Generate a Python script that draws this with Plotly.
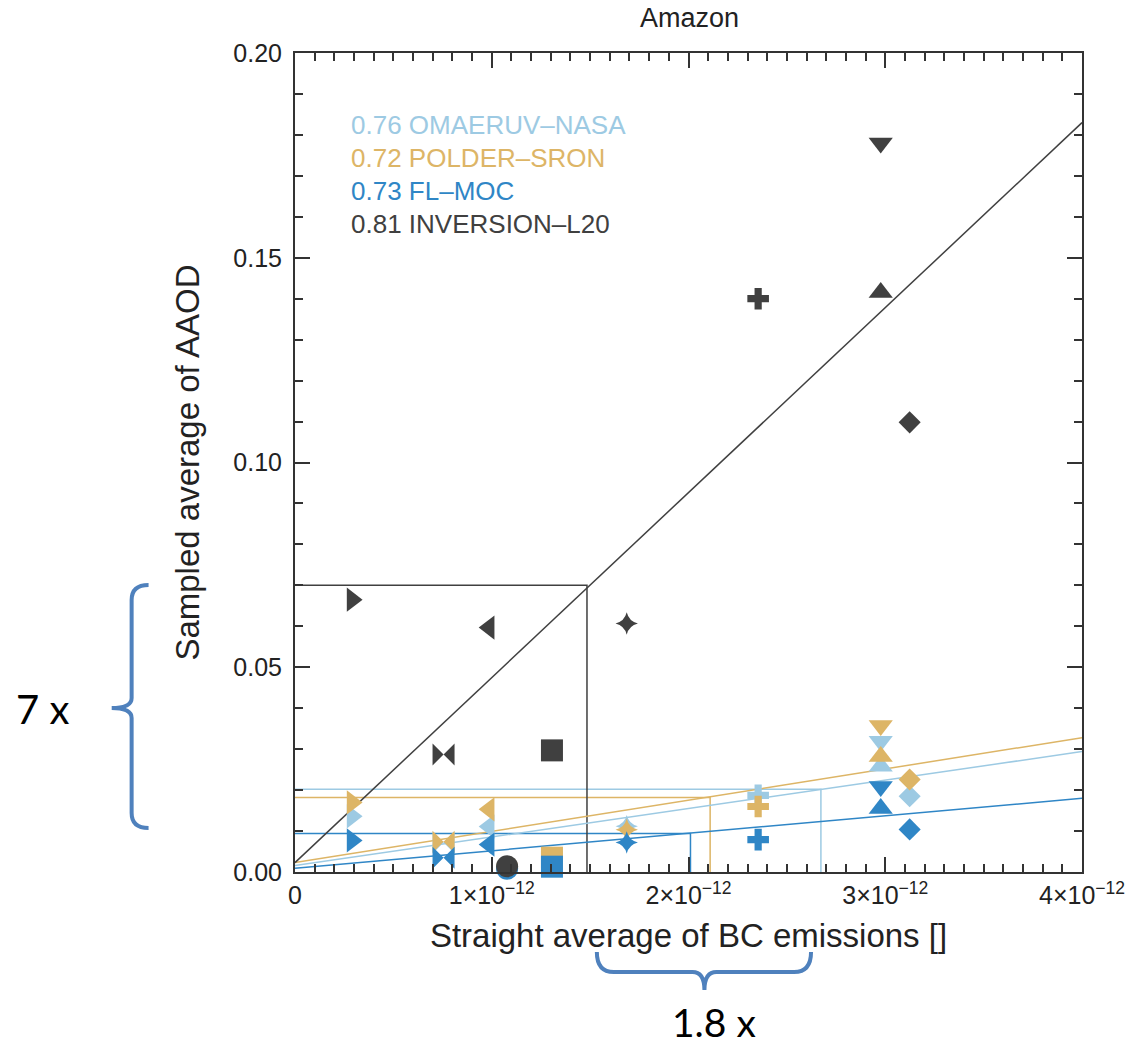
import plotly.graph_objects as go

# ---------------- data ----------------
series_names = ["OMAERUV-NASA", "POLDER-SRON", "FL-MOC", "INVERSION-L20"]
series_corr = ["0.76", "0.72", "0.73", "0.81"]
series_colors = ["#9DCAE3", "#DDB566", "#2F86C6", "#404040"]

case_symbols = ["triangle-right", "bowtie", "triangle-left", "circle", "square",
                "star-diamond", "cross", "triangle-down", "triangle-up", "diamond"]
marker_sizes = [21, 22, 21, 22, 22, 16, 18, 21, 21, 17]

# straight average of BC emissions (same for every dataset)
bc_emis = [0.29e-12, 0.755e-12, 0.987e-12, 1.078e-12, 1.306e-12,
           1.686e-12, 2.354e-12, 2.977e-12, 2.977e-12, 3.124e-12]

aaod_omaeruv = [0.0136, 0.0072, 0.0111, 0.0010, 0.0025, 0.0112, 0.0187, 0.0319, 0.0258, 0.0185]
aaod_polder = [0.0170, 0.0074, 0.0153, 0.0012, 0.0035, 0.0103, 0.0160, 0.0358, 0.0282, 0.0226]
aaod_flmoc = [0.0077, 0.0035, 0.0067, 0.0008, 0.0013, 0.0072, 0.0079, 0.0209, 0.0155, 0.0104]
aaod_inversion = [0.0665, 0.0287, 0.0597, 0.0014, 0.0297, 0.0607, 0.1400, 0.1780, 0.1415, 0.1098]
series_aaod = [aaod_omaeruv, aaod_polder, aaod_flmoc, aaod_inversion]

# regression lines: value at x=0 and at x=4e-12
fit_x = [0.0, 4e-12]
fit_start = [0.0016, 0.0023, 0.0009, 0.0023]
fit_end = [0.0294, 0.0328, 0.0180, 0.1830]

# reference boxes (x, y corner)
box_x = [2.673e-12, 2.11e-12, 2.01e-12, 1.484e-12]
box_y = [0.0202, 0.0182, 0.0094, 0.0700]

x_tickvals = [0, 1e-12, 2e-12, 3e-12, 4e-12]
x_ticktext = ["0", "1×10<sup>−12</sup>", "2×10<sup>−12</sup>",
              "3×10<sup>−12</sup>", "4×10<sup>−12</sup>"]

# ---------------- layout geometry ----------------
W, H = 1137, 1048
L, R, T, B = 295, 52, 53, 176
PW, PH = W - L - R, H - T - B


def px(x):
    return (x - L) / PW


def py(y):
    return (H - B - y) / PH


FONT = "Liberation Sans, Arial, Helvetica, sans-serif"
fig = go.Figure()

# boxes and fit lines
for i in range(4):
    fig.add_trace(go.Scatter(
        x=[0, box_x[i], box_x[i]], y=[box_y[i], box_y[i], 0],
        mode="lines", line=dict(color=series_colors[i], width=1.5),
        showlegend=False, hoverinfo="skip"))
for i in range(4):
    fig.add_trace(go.Scatter(
        x=fit_x, y=[fit_start[i], fit_end[i]],
        mode="lines", line=dict(color=series_colors[i], width=1.5),
        showlegend=False, hoverinfo="skip"))

# markers
for i in range(4):
    fig.add_trace(go.Scatter(
        x=bc_emis, y=series_aaod[i], mode="markers",
        marker=dict(symbol=case_symbols, size=marker_sizes, opacity=1,
                    color=series_colors[i], line=dict(width=0)),
        cliponaxis=False, showlegend=False, name=series_names[i]))

# legend texts
leg_y = [125, 158, 191, 224]
for i in range(4):
    fig.add_annotation(
        x=px(349), y=py(leg_y[i]), xref="paper", yref="paper",
        xanchor="left", yanchor="middle", showarrow=False,
        text=f"{series_corr[i]} {series_names[i].replace('-', '–')}",
        font=dict(family=FONT, size=26, color=series_colors[i]))

# outside brackets
BR = "#4F81BD"


def path(points):
    s = ""
    for cmd, pts in points:
        s += cmd + " " + " ".join(f"{px(a):.5f},{py(b):.5f}" for a, b in pts) + " "
    return s.strip()


left_brace = path([
    ("M", [(148, 585)]), ("Q", [(131, 585), (131, 600)]), ("L", [(131, 698)]),
    ("Q", [(131, 708), (111, 708)]), ("Q", [(131, 708), (131, 718)]),
    ("L", [(131, 813)]), ("Q", [(131, 828), (148, 828)])])
bottom_brace = path([
    ("M", [(598, 952)]), ("Q", [(598, 972), (615, 972)]), ("L", [(694, 972)]),
    ("Q", [(706, 972), (706, 990)]), ("Q", [(706, 972), (718, 972)]),
    ("L", [(796, 972)]), ("Q", [(813, 972), (813, 952)])])
for p in (left_brace, bottom_brace):
    fig.add_shape(type="path", path=p, xref="paper", yref="paper",
                  line=dict(color=BR, width=4))

fig.add_annotation(x=px(42), y=py(709), xref="paper", yref="paper",
                   text="7 x", showarrow=False, xanchor="center", yanchor="middle",
                   font=dict(family="Lato, Carlito, sans-serif", size=40, color="black"))
fig.add_annotation(x=px(716), y=py(1022), xref="paper", yref="paper",
                   text="1.8 x", showarrow=False, xanchor="center", yanchor="middle",
                   font=dict(family="Lato, Carlito, sans-serif", size=39, color="black"))

axis_common = dict(showline=True, linecolor="#333333", linewidth=2, mirror="allticks",
                   ticks="inside", tickcolor="#333333", tickwidth=1.5, ticklen=15,
                   showgrid=False, zeroline=False,
                   tickfont=dict(family=FONT, size=25, color="#222222"))

fig.update_layout(
    width=W, height=H, margin=dict(l=L, r=R, t=T, b=B),
    plot_bgcolor="white", paper_bgcolor="white",
    title=dict(text="Amazon", x=px(691), xref="paper", xanchor="center",
               y=1 - 18 / H, yref="container", yanchor="middle",
               font=dict(family=FONT, size=27, color="#222222")),
    xaxis=dict(range=[0, 4e-12], tickvals=x_tickvals, ticktext=x_ticktext,
               minor=dict(ticks="inside", dtick=1e-13, tick0=0, ticklen=8,
                          tickcolor="#333333", tickwidth=1.5),
               title=dict(text="Straight average of BC emissions []", standoff=16,
                          font=dict(family=FONT, size=33, color="#222222")),
               **axis_common),
    yaxis=dict(range=[0, 0.2], tickvals=[0, 0.05, 0.1, 0.15, 0.2], tickformat=".2f",
               minor=dict(ticks="inside", dtick=0.01, tick0=0, ticklen=8,
                          tickcolor="#333333", tickwidth=1.5),
               ticklabelstandoff=6,
               title=dict(text="Sampled average of AAOD", standoff=24,
                          font=dict(family=FONT, size=33, color="#222222")),
               **axis_common),
)

fig.write_html("out.html")
